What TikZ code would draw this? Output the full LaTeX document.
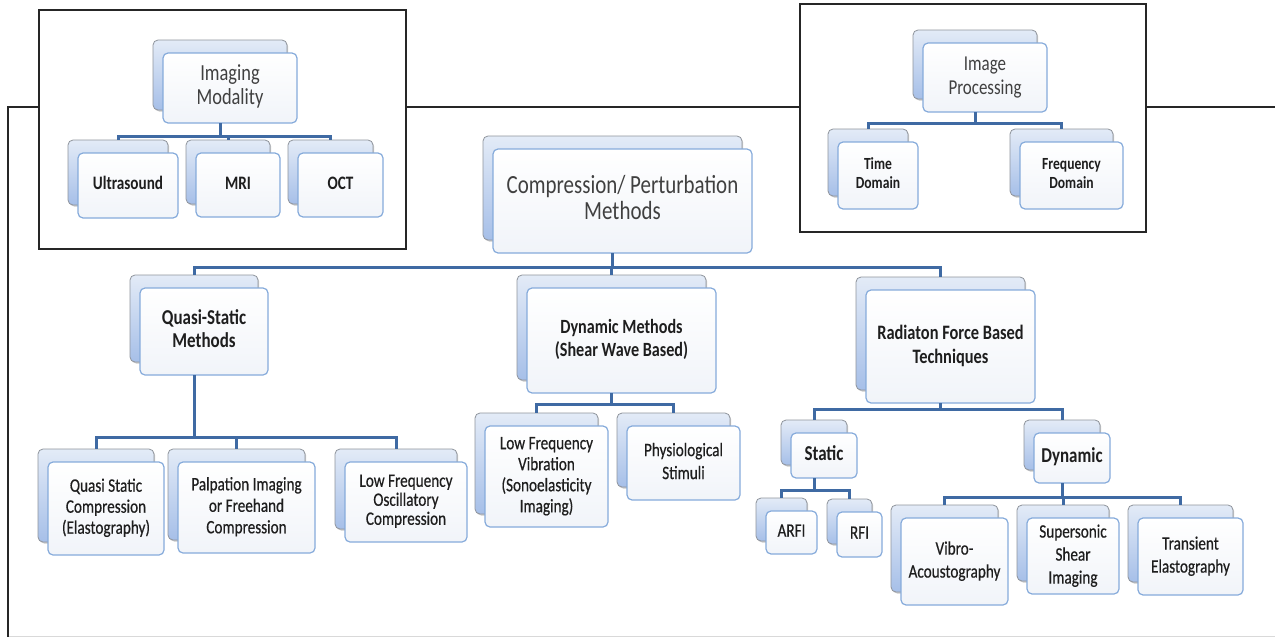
\documentclass[tikz,border=0pt]{standalone}
\usepackage{fontspec}
\setmainfont{Carlito}
\newfontfamily\semib[FakeBold=0.6]{Carlito}
\usepackage{graphicx}
\usetikzlibrary{shadows,calc}
\definecolor{conncol}{HTML}{3F6AA3}
\definecolor{backtop}{HTML}{E3EBF7}
\definecolor{backbot}{HTML}{A6BFE8}
\definecolor{backline}{HTML}{8F949C}
\definecolor{frontline}{HTML}{86ABDB}
\definecolor{frontbot}{HTML}{F1F4F9}
\definecolor{txtgray}{HTML}{404040}
\definecolor{txtdark}{HTML}{1E1E1E}
\definecolor{framecol}{HTML}{262626}
\newcommand\lbl[4]{\scalebox{0.8}[1]{\fontsize{#1pt}{#2pt}\selectfont#3\begin{tabular}{@{}c@{}}#4\end{tabular}}}
% name, x1, y1, x2, y2, font size, skip, text, font commands
\newcommand\smart[9]{%
  \node[backbox, minimum width={(#4-#2)*1pt}, minimum height={(#5-#3)*1pt}] (#1b) at ({(#2+#4)/2-10},{(#3+#5)/2-13}) {};
  \node[frontbox, minimum width={(#4-#2)*1pt}, minimum height={(#5-#3)*1pt}] (#1) at ({(#2+#4)/2},{(#3+#5)/2}) {\lbl{#6}{#7}{#9}{#8}};
}
\begin{document}
\begin{tikzpicture}[x=1pt,y=-1pt,
  backbox/.style={draw=backline, line width=0.8pt, rounded corners=5pt, top color=backtop, bottom color=backbot, inner sep=0pt, outer sep=0pt,
    drop shadow={shadow xshift=1.2pt, shadow yshift=-1.5pt, opacity=0.35, fill=black!60}},
  frontbox/.style={draw=frontline, line width=1.2pt, rounded corners=5pt, top color=white, bottom color=frontbot, inner sep=0pt, outer sep=0pt},
  conn/.style={draw=conncol, line width=3pt},
  frame/.style={draw=framecol, line width=1.6pt}]
\useasboundingbox (0,0) rectangle (1275,637);
\fill[white] (0,0) rectangle (1275,637);
% frames
\draw[frame] (8,637) -- (8,107) -- (39,107);
\draw[frame] (406,107) -- (800,107);
\draw[frame] (1146,107) -- (1275,107);
\draw[frame] (39,10) rectangle (406,249);
\draw[frame] (800,4) rectangle (1146,232);
\draw[black!15, line width=1pt] (9,636) -- (1275,636);
% boxes
\smart{im}{163}{53}{297}{123}{23}{24}{Imaging\\Modality}{\color{txtgray}}
\smart{us}{78}{153}{178}{218}{19}{21}{Ultrasound}{\bfseries\color{txtdark}}
\smart{mri}{196}{153}{280}{217}{19}{21}{MRI}{\bfseries\color{txtdark}}
\smart{oct}{298}{153}{383}{217}{19}{21}{OCT}{\bfseries\color{txtdark}}
\smart{ip}{923}{43}{1047}{112}{21.2}{24}{Image\\Processing}{\color{txtgray}}
\smart{td}{838}{142}{918}{209}{17}{19}{Time\\Domain}{\bfseries\color{txtdark}}
\smart{fd}{1020}{142}{1123}{209}{17}{19}{Frequency\\Domain}{\bfseries\color{txtdark}}
\smart{cp}{493}{149}{752}{253}{26.2}{26}{Compression/ Perturbation\\Methods}{\color{txtgray}}
\smart{qs}{140}{288}{268}{375}{21.2}{23}{Quasi-Static\\Methods}{\bfseries\color{txtdark}}
\smart{dm}{527}{288}{716}{393}{20.2}{23}{Dynamic Methods\\(Shear Wave Based)}{\bfseries\color{txtdark}}
\smart{rf}{866}{290}{1035}{403}{20.5}{24}{Radiaton Force Based\\Techniques}{\bfseries\color{txtdark}}
\smart{qsc}{48}{462}{164}{555}{19}{21}{Quasi Static\\Compression\\(Elastography)}{\semib\color{txtdark}}
\smart{pal}{178}{462}{315}{553}{19}{21.5}{Palpation Imaging\\or Freehand\\Compression}{\semib\color{txtdark}}
\smart{lfo}{345}{462}{467}{542}{19}{19}{Low Frequency\\Oscillatory\\Compression}{\semib\color{txtdark}}
\smart{lfv}{485}{426}{608}{527}{19}{21}{Low Frequency\\Vibration\\(Sonoelasticity\\Imaging)}{\semib\color{txtdark}}
\smart{ps}{627}{426}{740}{500}{19}{23}{Physiological\\Stimuli}{\semib\color{txtdark}}
\smart{st}{791}{433}{857}{478}{21.2}{23}{Static}{\bfseries\color{txtdark}}
\smart{dy}{1034}{433}{1110}{483}{21.2}{23}{Dynamic}{\bfseries\color{txtdark}}
\smart{arfi}{766}{511}{817}{554}{19}{21}{ARFI}{\semib\color{txtdark}}
\smart{rfi}{837}{512}{882}{557}{19}{21}{RFI}{\semib\color{txtdark}}
\smart{va}{901}{518}{1008}{605}{19}{23}{Vibro-\\Acoustography}{\semib\color{txtdark}}
\smart{ss}{1027}{518}{1119}{594}{19}{23}{Supersonic\\Shear\\Imaging}{\semib\color{txtdark}}
\smart{te}{1138}{518}{1243}{595}{19}{23}{Transient\\Elastography}{\semib\color{txtdark}}
% bar levels
\coordinate (bim) at (0,136);
\coordinate (bip) at (0,123);
\coordinate (bcp) at (0,267);
\coordinate (bqs) at (0,437);
\coordinate (bdm) at (0,404);
\coordinate (brf) at (0,409);
\coordinate (bst) at (0,490);
\coordinate (bdy) at (0,497);
% connectors
\foreach \ch in {us,mri,oct} \draw[conn] (imb |- im.south) |- (\ch b.north |- bim) -- (\ch b.north);
\foreach \ch in {td,fd} \draw[conn] (ipb |- ip.south) |- (\ch b.north |- bip) -- (\ch b.north);
\foreach \ch in {qs,dm,rf} \draw[conn] (cpb |- cp.south) |- (\ch b.north |- bcp) -- (\ch b.north);
\foreach \ch in {qsc,pal,lfo} \draw[conn] (qsb |- qs.south) |- (\ch b.north |- bqs) -- (\ch b.north);
\foreach \ch in {lfv,ps} \draw[conn] (dmb |- dm.south) |- (\ch b.north |- bdm) -- (\ch b.north);
\foreach \ch in {st,dy} \draw[conn] (rfb |- rf.south) |- (\ch b.north |- brf) -- (\ch b.north);
\foreach \ch in {arfi,rfi} \draw[conn] (stb |- st.south) |- (\ch b.north |- bst) -- (\ch b.north);
\foreach \ch in {va,ss,te} \draw[conn] (dyb |- dy.south) |- (\ch b.north |- bdy) -- (\ch b.north);
\end{tikzpicture}
\end{document}
